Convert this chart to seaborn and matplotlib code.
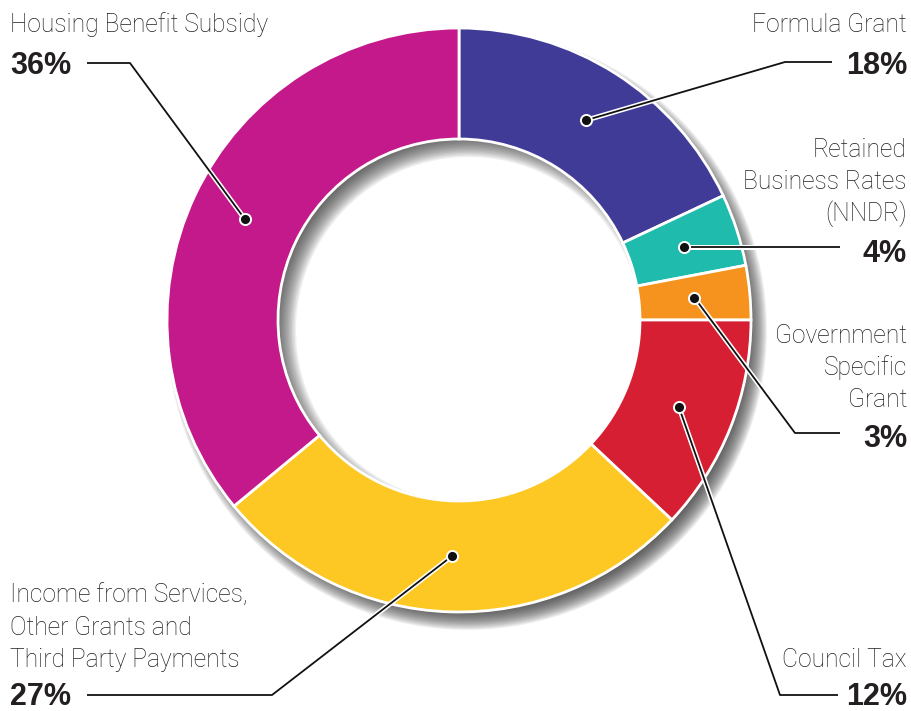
import numpy as np
import seaborn as sns
import matplotlib.pyplot as plt
import matplotlib.patheffects as pe
from matplotlib.patches import Circle, Wedge

sns.set_theme(style="white")
plt.rcParams["font.family"] = ["Roboto", "DejaVu Sans"]

# Data
categories = ["Formula Grant", "Retained Business Rates (NNDR)", "Government Specific Grant",
              "Council Tax", "Income from Services, Other Grants and Third Party Payments",
              "Housing Benefit Subsidy"]
shares = [18, 4, 3, 12, 27, 36]
label_lines = [["Formula Grant"],
               ["Retained", "Business Rates", "(NNDR)"],
               ["Government", "Specific", "Grant"],
               ["Council Tax"],
               ["Income from Services,", "Other Grants and", "Third Party Payments"],
               ["Housing Benefit Subsidy"]]
colors = ["#413b98", "#1fbcad", "#f6921e", "#d71f33", "#fdc823", "#c4198a"]

# Layout (image pixel coords, y down)
W, H = 912, 711
cx, cy = 459, 320
R, ring = 292, 111
# side, first label baseline, pct baseline, elbow, line end
layout = [
    ("right", 32, 74, (785, 62), (832, 62)),
    ("right", 157, 262, None, (840, 248)),
    ("right", 343, 447, (795, 433), (840, 433)),
    ("right", 667, 705, (780, 695), (838, 695)),
    ("left", 603, 705, (272, 695), (87, 695)),
    ("left", 32, 74, (130, 63), (87, 63)),
]
line_gap = 32
text_col = "#231f20"

fig = plt.figure(figsize=(W / 100, H / 100), dpi=100)
ax = fig.add_axes([0, 0, 1, 1])

def fy(y):
    return H - y

# Soft drop shadow under the ring (stacked translucent discs)
r_in = R - ring
for k in range(24):
    ax.add_patch(Circle((cx + 8, fy(cy) - 10), R + 8 - 1.1 * k, color="#333333",
                        alpha=0.075, lw=0, zorder=0))

# Hole, with an inner shadow along its upper-left rim
hole = Circle((cx, fy(cy)), r_in, color="white", lw=0, zorder=1)
ax.add_patch(hole)
for k in range(20):
    sh = Wedge((cx + 10, fy(cy) - 10), r_in + 60, 0, 360,
               width=r_in + 60 - (r_in - 8 + 1.4 * k), color="#333333",
               alpha=0.08, lw=0, zorder=1.5)
    ax.add_patch(sh)
    sh.set_clip_path(hole)

wedges, _ = ax.pie(shares, colors=colors, startangle=90, counterclock=False,
                   radius=R, center=(cx, fy(cy)),
                   wedgeprops=dict(width=ring, edgecolor="white", linewidth=2))
for w in wedges:
    w.set_zorder(2)

halo = [pe.Stroke(linewidth=3.6, foreground="white"), pe.Normal()]
for w, lines, share, (side, base1, base_pct, elbow, end) in zip(wedges, label_lines, shares, layout):
    mid = np.deg2rad((w.theta1 + w.theta2) / 2)
    rm = w.r - w.width / 2
    px = w.center[0] + rm * np.cos(mid)
    py = w.center[1] + rm * np.sin(mid)
    xs, ys = [px], [py]
    if elbow is not None:
        xs.append(elbow[0]); ys.append(fy(elbow[1]))
        xs.append(end[0]); ys.append(fy(end[1]))
    else:
        xs.append(end[0]); ys.append(py)
    ax.plot(xs, ys, color="#111111", lw=1.3, zorder=3, path_effects=halo,
            solid_capstyle="butt")
    ax.plot(px, py, "o", ms=8, mfc="#111111", mec="white", mew=1.4, zorder=4)

    x_txt = 907 if side == "right" else 10
    ha = "right" if side == "right" else "left"
    for i, ln in enumerate(lines):
        ax.text(x_txt, fy(base1 + i * line_gap), ln, ha=ha, va="baseline",
                fontsize=17.7, fontweight="light", color=text_col, zorder=5)
    ax.text(x_txt, fy(base_pct), f"{share}%", ha=ha, va="baseline",
            fontsize=22, fontweight="bold", color=text_col, zorder=5,
            family=["Liberation Sans", "DejaVu Sans"])

ax.set_xlim(0, W)
ax.set_ylim(0, H)
ax.set_aspect("auto")
ax.axis("off")

fig.savefig("out.png", dpi=100, facecolor="white")
